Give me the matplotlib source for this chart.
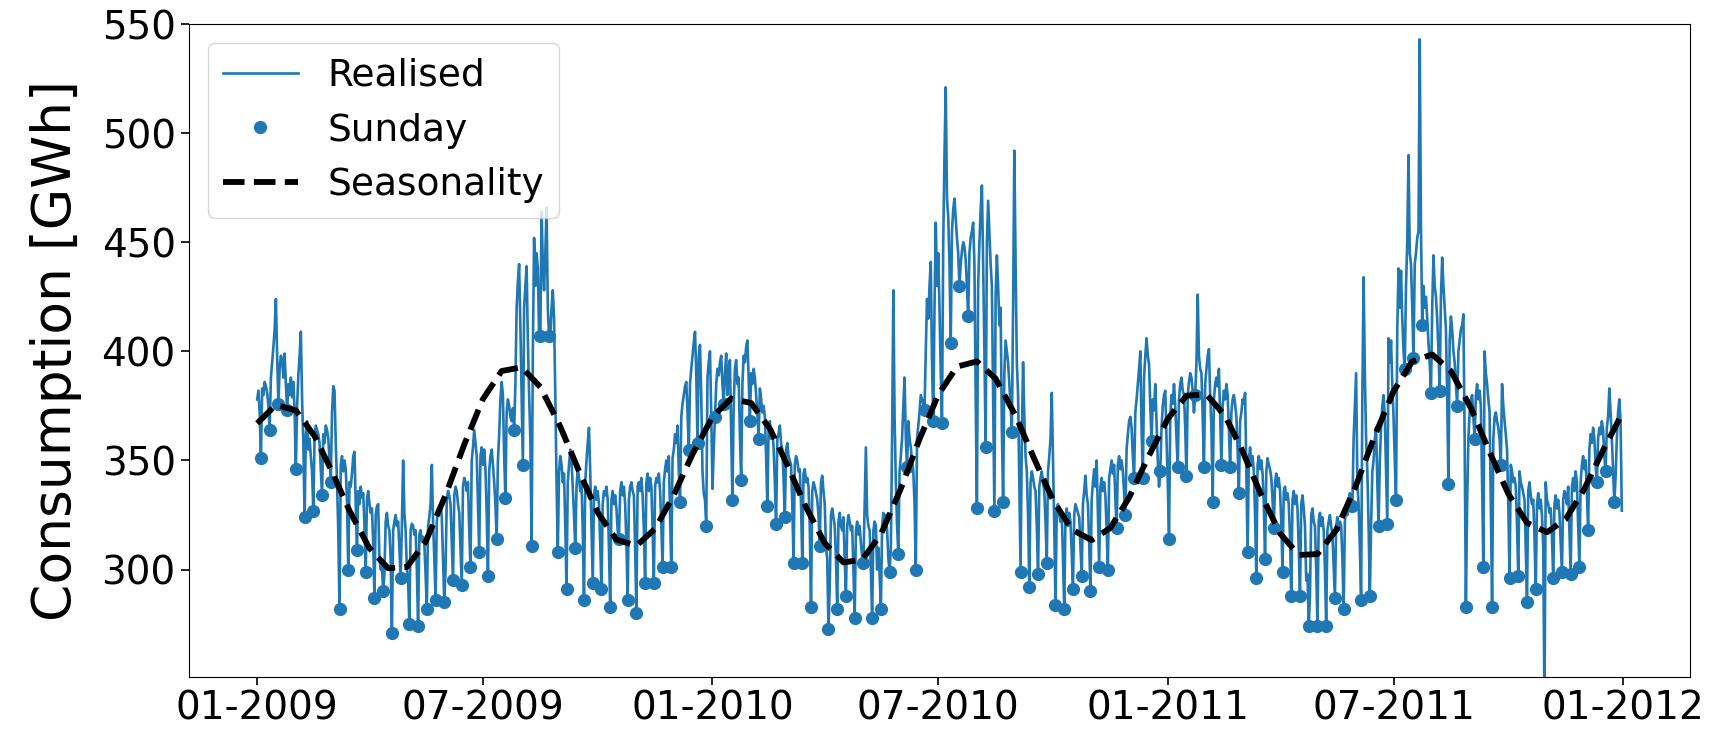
import numpy as np
import pandas as pd
import matplotlib
matplotlib.use("Agg")
import matplotlib.pyplot as plt
import matplotlib.dates as mdates

# ---------------- data (daily consumption, GWh) ----------------
realised_2009 = [
    378, 382, 372, 351,
    383, 380, 386, 384, 381, 375, 364,
    388, 395, 402, 410, 424, 398, 376,
    392, 398, 396, 388, 399, 385, 373,
    385, 380, 388, 379, 386, 372, 346,
    375, 389, 398, 409, 378, 358, 324,
    362, 368, 355, 360, 352, 345, 327,
    360, 366, 364, 362, 358, 346, 334,
    362, 358, 366, 364, 360, 350, 340,
    372, 384, 382, 358, 340, 318, 282,
    348, 352, 345, 350, 346, 332, 300,
    340, 338, 344, 352, 354, 330, 309,
    336, 330, 338, 333, 335, 320, 299,
    332, 336, 330, 326, 328, 312, 287,
    325, 329, 330, 305, 300, 302, 290,
    298, 322, 326, 320, 318, 305, 271,
    318, 322, 325, 320, 322, 310, 296,
    320, 350, 326, 318, 300, 295, 275,
    318, 321, 320, 316, 318, 300, 274,
    316, 318, 313, 315, 312, 298, 282,
    320, 324, 330, 348, 322, 305, 286,
    322, 328, 326, 330, 324, 304, 285,
    300, 332, 336, 334, 330, 312, 295,
    334, 338, 336, 330, 326, 310, 293,
    338, 342, 340, 336, 340, 318, 301,
    350, 356, 364, 358, 352, 330, 308,
    352, 356, 348, 355, 346, 326, 297,
    345, 352, 355, 348, 340, 330, 314,
    350, 362, 378, 386, 380, 352, 333,
    372, 378, 375, 370, 368, 374, 364,
    385, 420, 432, 440, 412, 380, 348,
    420, 430, 439, 405, 380, 360, 311,
    400, 452, 430, 445, 438, 407, 407,
    464, 440, 428, 445, 466, 420, 407,
    407, 420, 428, 415, 380, 340, 308,
    345, 352, 348, 340, 344, 320, 291,
    340, 348, 355, 350, 338, 325, 310,
    338, 346, 342, 336, 340, 318, 286,
    340, 350, 358, 365, 345, 320, 294,
    334, 338, 332, 336, 330, 312, 291,
    330, 336, 334, 338, 332, 310, 283,
    332, 336, 330, 334, 328, 318, 314,
    336, 340, 334, 338, 330, 312, 286,
    332, 338, 340, 336, 334, 310, 280,
    338, 340, 336, 342, 334, 318, 294,
    340, 344, 336, 342, 338, 318, 294,
    338, 342, 340, 344, 336, 320, 301,
    340, 346, 350, 345, 352, 325, 301,
    351, 355, 362, 358, 366, 345, 331,
    370, 376, 380, 384, 386, 372, 355,
    385, 392, 398, 404, 409, 390, 358,
    398, 403, 380, 345, 335, 332, 320,
    388, 395, 400, 372,
]

realised_2010 = [
    337, 355, 370,
    385, 392, 389, 395, 398, 385, 376,
    390, 399, 380, 392, 396, 362, 332,
    375, 392, 396, 385, 388, 362, 341,
    385, 398, 395, 402, 405, 388, 368,
    390, 385, 392, 388, 380, 372, 360,
    383, 378, 372, 375, 370, 352, 329,
    365, 368, 360, 364, 356, 340, 321,
    360, 362, 366, 358, 355, 342, 324,
    355, 358, 352, 350, 348, 330, 303,
    348, 352, 350, 345, 346, 330, 303,
    344, 346, 340, 342, 338, 320, 283,
    336, 340, 338, 335, 332, 325, 311,
    340, 343, 336, 330, 310, 305, 273,
    292, 325, 328, 324, 320, 305, 282,
    322, 326, 320, 318, 324, 305, 288,
    320, 325, 322, 318, 320, 300, 278,
    318, 322, 316, 320, 312, 306, 303,
    330, 356, 325, 320, 318, 300, 278,
    318, 322, 320, 300, 310, 298, 282,
    320, 326, 322, 325, 318, 305, 299,
    310, 360, 428, 370, 340, 320, 307,
    345, 352, 360, 375, 388, 360, 347,
    368, 360, 356, 350, 345, 330, 300,
    360, 366, 372, 380, 378, 376, 373,
    400, 424, 415, 430, 441, 395, 368,
    420, 459, 430, 445, 420, 390, 367,
    450, 490, 521, 470, 462, 440, 404,
    455, 465, 470, 461, 452, 445, 430,
    440, 446, 450, 448, 442, 430, 416,
    445, 452, 455, 459, 440, 380, 328,
    430, 450, 465, 476, 440, 400, 356,
    450, 469, 455, 440, 430, 380, 327,
    425, 444, 430, 412, 420, 365, 331,
    390, 405, 400, 395, 385, 375, 363,
    420, 492, 440, 395, 380, 340, 299,
    360, 395, 370, 352, 345, 325, 292,
    340, 345, 342, 338, 336, 320, 298,
    338, 342, 345, 340, 336, 322, 303,
    345, 352, 360, 381, 350, 320, 284,
    328, 330, 325, 322, 326, 305, 282,
    324, 328, 320, 326, 322, 308, 291,
    325, 330, 328, 326, 324, 310, 297,
    330, 336, 343, 334, 330, 312, 290,
    332, 340, 346, 338, 350, 325, 301,
    338, 342, 336, 340, 334, 318, 300,
    342, 346, 350, 344, 348, 332, 319,
    348, 352, 346, 350, 345, 335, 325,
    355, 362, 368, 370, 365, 352, 342,
    372, 378, 385, 392, 400, 365, 342,
    388, 398, 406, 398, 394, 375, 359,
    378, 373, 385, 368, 350, 338, 345,
    365, 375, 380, 382, 360,
]

realised_2011 = [
    340, 314,
    370, 380, 376, 385, 375, 360, 347,
    378, 385, 388, 382, 380, 365, 343,
    380, 386, 390, 388, 382, 372, 380,
    395, 426, 398, 392, 390, 370, 347,
    385, 392, 398, 401, 380, 365, 331,
    378, 385, 388, 384, 392, 370, 348,
    375, 382, 378, 385, 380, 365, 347,
    372, 378, 380, 376, 370, 355, 335,
    368, 372, 378, 376, 381, 345, 308,
    350, 356, 348, 352, 345, 325, 296,
    348, 352, 346, 350, 344, 330, 305,
    345, 351, 348, 346, 342, 332, 319,
    340, 344, 338, 342, 336, 322, 299,
    336, 338, 332, 335, 330, 315, 288,
    332, 336, 330, 334, 328, 310, 288,
    330, 334, 328, 320, 295, 298, 274,
    288, 325, 328, 322, 320, 300, 274,
    322, 326, 320, 324, 318, 300, 274,
    318, 322, 325, 320, 316, 302, 287,
    320, 324, 318, 322, 320, 305, 282,
    322, 328, 325, 330, 335, 330, 329,
    360, 375, 390, 340, 330, 310, 286,
    380, 434, 390, 360, 345, 320, 288,
    320, 345, 350, 360, 365, 340, 320,
    350, 365, 375, 380, 370, 345, 321,
    406, 395, 405, 385, 370, 350, 332,
    410, 438, 420, 437, 415, 400, 392,
    430, 450, 490, 445, 440, 420, 397,
    440, 445, 452, 455, 543, 456, 412,
    430, 420, 425, 415, 404, 395, 381,
    420, 444, 430, 425, 415, 400, 382,
    425, 443, 430, 420, 410, 380, 339,
    405, 416, 410, 400, 395, 385, 375,
    400, 405, 410, 412, 417, 360, 283,
    330, 360, 372, 378, 380, 370, 360,
    380, 385, 378, 382, 375, 340, 301,
    400, 390, 385, 378, 372, 330, 283,
    360, 370, 372, 368, 365, 360, 348,
    385, 375, 368, 362, 355, 330, 296,
    348, 345, 340, 342, 338, 320, 297,
    345, 340, 338, 335, 332, 310, 285,
    336, 340, 334, 330, 332, 315, 291,
    330, 335, 328, 332, 325, 310, 240,
    340, 332, 330, 326, 328, 315, 296,
    330, 334, 328, 332, 326, 312, 299,
    332, 336, 334, 330, 338, 318, 298,
    338, 342, 336, 345, 340, 320, 301,
    340, 348, 352, 346, 350, 335, 318,
    355, 362, 358, 365, 360, 348, 340,
    360, 365, 362, 368, 364, 352, 345,
    365, 370, 383, 372, 360, 345, 331,
    342, 360, 372, 378, 368, 327,
]

# seasonality curve read at the 1st and 16th of every month (+ last day)
seasonality_2009 = [367.0, 375.5, 372.9, 361.2, 346.1, 327.0, 309.8, 300.6,
                    301.2, 312.7, 334.1, 357.3, 378.2, 391.0, 392.7, 383.7,
                    365.5, 345.1, 326.2, 313.7, 310.9, 318.7, 334.2, 352.9]
seasonality_2010 = [370.0, 378.4, 376.3, 364.6, 349.2, 329.7, 312.1, 303.3,
                    304.5, 316.2, 337.1, 359.8, 380.1, 393.0, 395.4, 387.5,
                    370.5, 350.7, 331.8, 318.4, 313.5, 319.1, 333.0, 351.2]
seasonality_2011 = [369.1, 379.7, 380.3, 370.4, 355.5, 335.4, 316.6, 306.7,
                    307.1, 318.1, 338.7, 361.4, 381.7, 395.4, 398.6, 391.0,
                    374.1, 353.9, 334.7, 321.4, 317.1, 323.1, 337.0, 354.7,
                    371.2]

labels = ["Realised", "Sunday", "Seasonality"]
ylabel = "Consumption [GWh]"
tick_dates = ["2009-01-01", "2009-07-01", "2010-01-01", "2010-07-01",
              "2011-01-01", "2011-07-01", "2012-01-01"]

# ---------------- build series ----------------
realised = np.array(realised_2009 + realised_2010 + realised_2011, dtype=float)
days = pd.date_range("2009-01-01", "2011-12-31", freq="D")
sundays = days.dayofweek == 6

knot_dates = []
for y in (2009, 2010, 2011):
    for m in range(1, 13):
        knot_dates.append(pd.Timestamp(y, m, 1))
        knot_dates.append(pd.Timestamp(y, m, 16))
knot_dates.append(pd.Timestamp(2011, 12, 31))
seasonality = np.array(seasonality_2009 + seasonality_2010 + seasonality_2011)

# ---------------- plot ----------------
fig = plt.figure(figsize=(17.24, 7.29), dpi=100)
ax = fig.add_axes([0.1096, 0.072, 0.8707, 0.895])

blue = "#1f77b4"
ax.plot(days, realised, color=blue, lw=1.9, label=labels[0], zorder=2)
ax.plot(days[sundays], realised[sundays], "o", color=blue, ms=8.5,
        label=labels[1], zorder=3)
ax.plot(knot_dates, seasonality, "--", color="black", lw=4.2,
        label=labels[2], zorder=4)

ax.set_ylim(251, 550)
ax.set_yticks([300, 350, 400, 450, 500, 550])
ax.set_xticks([pd.Timestamp(d) for d in tick_dates])
ax.xaxis.set_major_formatter(mdates.DateFormatter("%m-%Y"))
ax.tick_params(axis="both", labelsize=28, length=6, width=1.2)
ax.tick_params(axis="x", pad=3)
ax.set_ylabel(ylabel, fontsize=38.5, labelpad=14)

ax.legend(loc="upper left", fontsize=27)

fig.savefig("out.png", dpi=100)
